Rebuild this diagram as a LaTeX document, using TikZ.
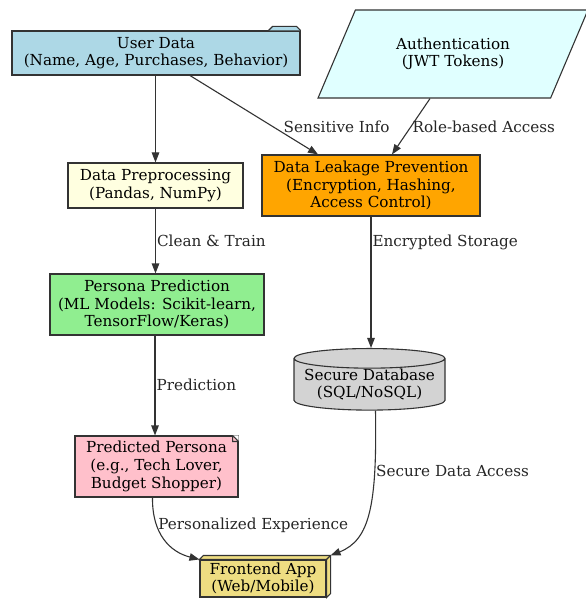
\documentclass[tikz,border=0pt]{standalone}
\usepackage{fontspec}
\setmainfont{DejaVu Serif}
\usepackage{tikz}
\usetikzlibrary{shapes, arrows.meta, positioning, calc}
\definecolor{userblue}{HTML}{ADD8E6}
\definecolor{authcyan}{HTML}{E0FFFF}
\definecolor{prepyellow}{HTML}{FFFFE0}
\definecolor{leakorange}{HTML}{FFA500}
\definecolor{personagreen}{HTML}{90EE90}
\definecolor{dbgray}{HTML}{D3D3D3}
\definecolor{predpink}{HTML}{FFC0CB}
\definecolor{frontgold}{HTML}{EEDD82}
\definecolor{edgegray}{HTML}{333333}

\begin{document}
\begin{tikzpicture}[x=1pt, y=-1pt,
    font=\fontsize{15.2}{17.6}\selectfont,
    box/.style={draw=edgegray, line width=1.1pt, align=center, inner sep=0pt},
    flow/.style={draw=edgegray, line width=1.1pt, -{Triangle[length=10pt, width=7.5pt]}},
    lbl/.style={anchor=west, inner sep=1pt, text=black!85}]
  \useasboundingbox (0,0) rectangle (585,601);

  \node[box, fill=userblue, minimum width=288pt, minimum height=44pt] (user) at (156,53)
    {User Data\\(Name, Age, Purchases, Behavior)};
  \filldraw[fill=userblue, draw=edgegray, line width=1.1pt]
    ($(user.north east)+(-32,0)$) -- ++(4,-4) -- ++(24,0) -- (user.north east);

  \node[box, fill=authcyan, trapezium, trapezium left angle=56, trapezium right angle=124,
    trapezium stretches=true, minimum width=270pt, minimum height=88pt] (auth) at (453,54)
    {Authentication\\(JWT Tokens)};

  \node[box, fill=prepyellow, minimum width=175pt, minimum height=45pt] (prep) at (155.5,185.5)
    {Data Preprocessing\\(Pandas, NumPy)};
  \node[box, fill=leakorange, minimum width=218pt, minimum height=61pt] (dlp) at (371,185.5)
    {Data Leakage Prevention\\(Encryption, Hashing,\\Access Control)};
  \node[box, fill=personagreen, minimum width=214pt, minimum height=61pt] (persona) at (157,304.5)
    {Persona Prediction\\(ML Models: Scikit-learn,\\TensorFlow/Keras)};
  \node[box, fill=dbgray, cylinder, shape border rotate=90, aspect=0.15,
    minimum width=151pt, minimum height=59pt] (db) at (369.5,384.5)
    {Secure Database\\(SQL/NoSQL)};

  \node[box, fill=predpink, minimum width=163pt, minimum height=61pt] (pred) at (156.5,466.5)
    {Predicted Persona\\(e.g., Tech Lover,\\Budget Shopper)};
  \fill[white] ($(pred.north east)+(-6,0)$) -- (pred.north east) -- ++(0,6) -- cycle;
  \draw[edgegray, line width=1.1pt] ($(pred.north east)+(-6,0)$) -- ++(6,6)
    ($(pred.north east)+(-6,0)$) -- ++(0,6) -- ++(6,0);

  \node[box, fill=frontgold, minimum width=126pt, minimum height=37pt] (front) at (263,578.5)
    {Frontend App\\(Web/Mobile)};
  \filldraw[fill=frontgold, draw=edgegray, line width=1.1pt]
    (front.north west) -- ++(4,-4) -- ($(front.north east)+(4,-4)$)
    -- ($(front.south east)+(4,-4)$) -- (front.south east) -- (front.north east) -- cycle;
  \draw[edgegray, line width=1.1pt] (front.north east) -- ++(4,-4);

  \draw[flow] (user.south -| prep.north) -- (prep.north);
  \draw[flow] ($(user.south)+(34,0)$) -- node[lbl, pos=0.72, yshift=6pt] {Sensitive Info}
    ($(dlp.north)+(-53,0)$);
  \draw[flow] ($(auth.south)+(-23,0)$) -- node[lbl, pos=0.5] {Role-based Access}
    ($(dlp.north)+(21,0)$);
  \draw[flow] (prep.south) -- node[lbl, pos=0.5] {Clean \& Train}
    (prep.south |- persona.north);
  \draw[flow] (dlp.south) -- node[lbl, pos=0.2] {Encrypted Storage} (dlp.south |- db.north);
  \draw[flow] ($(persona.south)+(-2,0)$) -- node[lbl, pos=0.49] {Prediction}
    ($(pred.north)+(-1.5,0)$);
  \draw[flow] ($(pred.south)+(-4,0)$) .. controls (152,534) and (170,552)
    .. node[lbl, pos=0.3] {Personalized Experience} (front.north west);
  \draw[flow] ($(db.south)+(6,0)$) .. controls (377,505) and (370,540)
    .. node[lbl, pos=0.25] {Secure Data Access} ($(front.north east)+(4,-4)$);
\end{tikzpicture}
\end{document}
